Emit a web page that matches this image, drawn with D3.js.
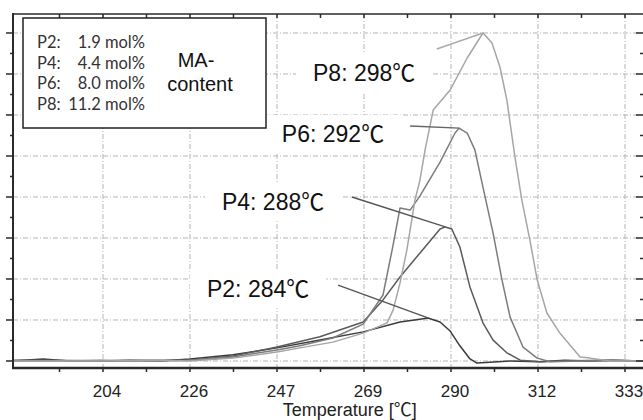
<!DOCTYPE html>
<html>
<head>
<meta charset="utf-8">
<script src="https://cdn.jsdelivr.net/npm/d3@7"></script>
<style>
  body { margin: 0; background: #fff; }
  svg { display: block; font-family: "Liberation Sans", Arial, sans-serif; }
</style>
</head>
<body>
<svg id="chart" width="643" height="420"></svg>
<script>
// DSC traces: [temperature °C, signal in grid units]
const samples = ['P2', 'P4', 'P6', 'P8'];
const maContent = ['1.9 mol%', '4.4 mol%', '8.0 mol%', '11.2 mol%'];
const peakLabels = ['P2: 284℃', 'P4: 288℃', 'P6: 292℃', 'P8: 298℃'];

const p2 = [[181.5,0],[189.2,0.05],[195.8,0],[203.3,0],[210.7,0.02],[218.1,0],[225.5,0.05],[236.1,0.15],
  [247.0,0.32],[257.6,0.51],[268.3,0.71],[277.4,0.95],[282.3,1.02],[284.3,1.05],[287.3,0.95],[289.8,0.73],
  [292.2,0.37],[294.7,0.05],[296.4,-0.05],[299.6,-0.03],[304.6,0],[312.0,-0.02],[318.0,0.02],[324.4,0],
  [330.0,0.02],[337.6,0]];
const p4 = [[181.5,0.02],[190.9,0.02],[203.3,0],[215.6,0.02],[225.5,0.02],[236.1,0.12],[247.0,0.34],
  [257.6,0.59],[268.3,0.95],[273.2,1.49],[277.4,2.05],[282.3,2.63],[287.3,3.22],[288.6,3.27],[290.2,3.22],
  [292.2,2.78],[294.7,1.80],[297.9,0.93],[300.4,0.51],[303.8,0.20],[307.1,0.02],[312.0,-0.02],[318.0,0],
  [326.8,0.02],[337.6,0]];
const p6 = [[181.5,0],[190.9,0],[203.3,0.02],[215.6,0],[225.5,0.02],[236.1,0.10],[247.0,0.27],[252.7,0.37],
  [260.8,0.56],[268.3,0.90],[273.2,1.61],[275.7,2.83],[277.4,3.73],[279.9,3.68],[282.3,4.02],[287.3,4.85],
  [291.0,5.56],[292.0,5.68],[294.0,5.56],[295.9,5.15],[297.9,4.24],[300.4,3.12],[302.6,1.98],[304.6,1.07],
  [307.8,0.34],[311.3,0.07],[314.5,-0.02],[321.9,0],[330.0,0.02],[337.6,0]];
const p8 = [[181.5,0],[190.9,0],[203.3,0],[215.6,0.02],[225.5,0],[236.1,0.07],[247.0,0.22],[252.7,0.32],
  [260.8,0.46],[268.3,0.68],[274.2,0.93],[275.7,1.24],[277.4,1.90],[279.1,2.71],[281.1,3.93],[282.3,4.40],
  [283.6,5.15],[285.6,6.12],[289.8,6.61],[294.0,7.39],[297.9,8.0],[300.1,7.76],[302.1,7.17],[303.8,6.37],
  [305.8,4.98],[307.5,3.93],[309.5,2.95],[311.3,1.98],[313.7,1.17],[316.9,0.68],[321.9,0.10],[324.4,0.07],
  [329.3,0],[337.6,0]];
const series = [p2, p4, p6, p8];

const xTicks = [204, 225.5, 247, 268.5, 290, 311.5, 333];
const yTicks = [0, 1, 2, 3, 4, 5, 6, 7, 8];

// annotation anchors (temperature, signal)
const labelAt = [[229.7, 1.56], [233.4, 3.68], [248.2, 5.34], [255.9, 6.83]];
const leaderFrom = [[262.1, 1.85], [265.5, 4.0], [279.9, 5.73], [286.5, 7.61]];

const lineColors = ['#3b3b3b', '#5a5a5a', '#7c7c7c', '#a6a6a6'];
const leaderColors = ['#555', '#555', '#666', '#aaa'];

const svg = d3.select('#chart');
svg.append('rect').attr('width', 643).attr('height', 420).attr('fill', '#fff');

const x = d3.scaleLinear().domain([181.76, 337.6]).range([13, 643.6]);
const y = d3.scaleLinear().domain([-0.171, 8.463]).range([368, 14]);

const step = xTicks[1] - xTicks[0];
const xMinor = d3.range(xTicks[0] - step / 2, x.domain()[1], step / 2);
const yMinor = d3.range(0, 8.5, 0.5);

// grid
const grid = svg.append('g')
  .attr('stroke', '#b5b5b5')
  .attr('stroke-width', 1)
  .attr('stroke-dasharray', '5,2,1,2');
grid.selectAll('.vg').data(xTicks).join('line')
  .attr('x1', d => x(d)).attr('x2', d => x(d))
  .attr('y1', y.range()[1]).attr('y2', y.range()[0]);
grid.selectAll('.hg').data(yTicks).join('line')
  .attr('x1', x.range()[0]).attr('x2', x.range()[1])
  .attr('y1', d => y(d)).attr('y2', d => y(d));

// white boxes behind the peak labels
const labels = svg.append('g').attr('class', 'labels');
const labelText = labels.selectAll('text').data(peakLabels).join('text')
  .attr('x', (d, i) => x(labelAt[i][0]))
  .attr('y', (d, i) => y(labelAt[i][1]))
  .attr('font-size', 23)
  .attr('font-family', '"Liberation Sans", "Noto Sans CJK SC", sans-serif')
  .attr('fill', '#111')
  .text(d => d);
labelText.each(function () {
  const b = this.getBBox();
  labels.insert('rect', 'text')
    .attr('x', b.x - 17).attr('y', b.y - 6)
    .attr('width', b.width + 34).attr('height', b.height + 12)
    .attr('fill', '#fff');
});

// traces
const line = d3.line().x(d => x(d[0])).y(d => y(d[1]));
svg.append('g').selectAll('path').data(series).join('path')
  .attr('d', line)
  .attr('fill', 'none')
  .attr('stroke', (d, i) => lineColors[i])
  .attr('stroke-width', 1.5)
  .attr('stroke-linejoin', 'round');

// leader lines to the peaks
svg.append('g').selectAll('line').data(series).join('line')
  .attr('x1', (d, i) => x(leaderFrom[i][0]))
  .attr('y1', (d, i) => y(leaderFrom[i][1]))
  .attr('x2', d => x(d3.greatest(d, p => p[1])[0]))
  .attr('y2', d => y(d3.greatest(d, p => p[1])[1]))
  .attr('stroke', (d, i) => leaderColors[i])
  .attr('stroke-width', 1.4);
labels.raise();

// frame and ticks
const frame = svg.append('g').attr('stroke', '#2a2a2a');
frame.append('line').attr('x1', 13).attr('x2', 643.6).attr('y1', 14).attr('y2', 14).attr('stroke-width', 1.5);
frame.append('line').attr('x1', 13).attr('x2', 13).attr('y1', 13).attr('y2', 369).attr('stroke-width', 2);
frame.append('line').attr('x1', 12).attr('x2', 643.6).attr('y1', 368).attr('y2', 368).attr('stroke-width', 2.6);

frame.selectAll('.bt').data(xMinor).join('line')
  .attr('x1', d => x(d)).attr('x2', d => x(d))
  .attr('y1', 368).attr('y2', 372).attr('stroke-width', 1.5);
frame.selectAll('.tt').data(xMinor).join('line')
  .attr('x1', d => x(d)).attr('x2', d => x(d))
  .attr('y1', 14).attr('y2', 18).attr('stroke-width', 1.5);
frame.selectAll('.lt').data(yMinor).join('line')
  .attr('x1', d => (d % 1 === 0 ? 6 : 10)).attr('x2', 13)
  .attr('y1', d => y(d)).attr('y2', d => y(d)).attr('stroke-width', 1.5);
frame.selectAll('.rt').data(yMinor).join('line')
  .attr('x1', d => (d % 1 === 0 ? 636 : 640)).attr('x2', 643)
  .attr('y1', d => y(d)).attr('y2', d => y(d)).attr('stroke-width', 1.5);

// x tick labels and title
svg.append('g').selectAll('text').data(xTicks).join('text')
  .attr('x', d => x(d) + 4)
  .attr('y', 397)
  .attr('text-anchor', 'middle')
  .attr('font-size', 17)
  .attr('fill', '#222')
  .text(d => d3.format('.0f')(d));

svg.append('text')
  .attr('x', x(265))
  .attr('y', 416)
  .attr('text-anchor', 'middle')
  .attr('font-size', 18)
  .attr('font-family', '"Liberation Sans", "Noto Sans CJK SC", sans-serif')
  .attr('fill', '#222')
  .text('Temperature [℃]');

// legend box
const legend = svg.append('g');
legend.append('rect')
  .attr('x', 23).attr('y', 18).attr('width', 243).attr('height', 110)
  .attr('fill', '#fff').attr('stroke', '#222').attr('stroke-width', 1.5);
legend.selectAll('.name').data(samples).join('text')
  .attr('x', 37).attr('y', (d, i) => 48 + i * 20.6)
  .attr('font-family', 'Lato, sans-serif').attr('font-size', 16.5).attr('fill', '#333')
  .text(d => d + ':');
legend.selectAll('.val').data(maContent).join('text')
  .attr('x', 145).attr('y', (d, i) => 48 + i * 20.6)
  .attr('text-anchor', 'end')
  .attr('font-family', 'Lato, sans-serif').attr('font-size', 16.5).attr('fill', '#333')
  .text(d => d);
legend.append('text').attr('x', 196).attr('y', 67).attr('text-anchor', 'middle')
  .attr('font-size', 20).attr('fill', '#111').text('MA-');
legend.append('text').attr('x', 200).attr('y', 91).attr('text-anchor', 'middle')
  .attr('font-size', 20).attr('fill', '#111').text('content');
</script>
</body>
</html>
